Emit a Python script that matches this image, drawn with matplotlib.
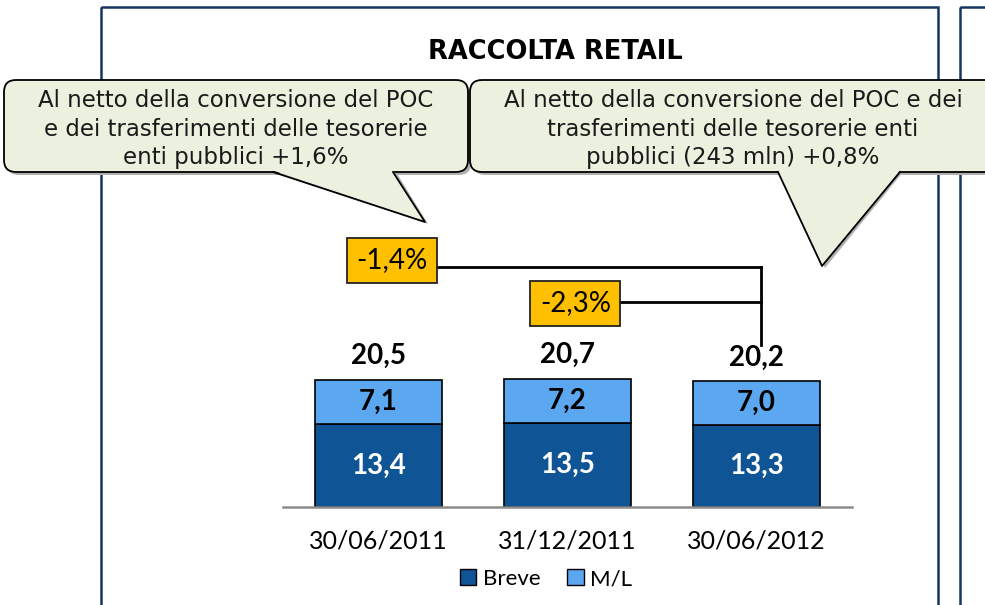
import matplotlib
matplotlib.use("Agg")
import matplotlib.pyplot as plt
from matplotlib.patches import FancyBboxPatch, Polygon, Rectangle, Patch

# dati
date = ["30/06/2011", "31/12/2011", "30/06/2012"]
breve = [13.4, 13.5, 13.3]
ml = [7.1, 7.2, 7.0]
totale = [20.5, 20.7, 20.2]
var_labels = ["-1,4%", "-2,3%"]
titolo = "RACCOLTA RETAIL"
nota1 = "Al netto della conversione del POC\ne dei trasferimenti delle tesorerie\nenti pubblici +1,6%"
nota2 = "Al netto della conversione del POC e dei\ntrasferimenti delle tesorerie enti\npubblici (243 mln) +0,8%"

W, H = 985, 605
col_breve = "#0F5494"
col_ml = "#5BA8F0"
col_var = "#FFC000"
col_nota = "#EBF1DE"
calibri = ["Lato", "DejaVu Sans"]


def fmt(v):
    return f"{v:.1f}".replace(".", ",")


fig = plt.figure(figsize=(W / 100, H / 100), dpi=100)

# assi delle barre, posizionati in pixel
base_px, top_px = 507, 230
px_per_unit = 6.2
ax = fig.add_axes([283 / W, (H - base_px) / H, 569 / W, (base_px - top_px) / H], zorder=2)
ax.patch.set_alpha(0)
x = list(range(len(date)))
larg = 0.672
ax.bar(x, breve, width=larg, color=col_breve, edgecolor="black", linewidth=1.2, label="Breve")
ax.bar(x, ml, bottom=breve, width=larg, color=col_ml, edgecolor="black", linewidth=1.2, label="M/L")
ax.set_xlim(-0.505, 2.505)
ax.set_ylim(0, (base_px - top_px) / px_per_unit)
for s in ["top", "right", "left"]:
    ax.spines[s].set_visible(False)
ax.spines["bottom"].set_color("#8c8c8c")
ax.spines["bottom"].set_linewidth(1.8)
ax.set_yticks([])
ax.set_xticks(x)
ax.set_xticklabels(date, fontsize=18, family=calibri)
ax.tick_params(axis="x", length=0, pad=16)

for i in x:
    ax.text(i, breve[i] / 2, fmt(breve[i]), ha="center", va="center",
            color="white", fontsize=20, fontweight="bold", family=calibri)
    ax.text(i, breve[i] + ml[i] / 2, fmt(ml[i]), ha="center", va="center",
            color="black", fontsize=20, fontweight="bold", family=calibri)
    ax.text(i, totale[i] + 3.9, fmt(totale[i]), ha="center", va="center",
            color="black", fontsize=20, fontweight="bold", family=calibri)

# box delle variazioni e connettori
box_pos = [(0.071, 39.76), (1.042, 32.9)]
bw, bh = 0.476, 7.26
x_conn = 2.024
y_end = 26.1
for (bx, by), lab in zip(box_pos, var_labels):
    ax.add_patch(Rectangle((bx - bw / 2, by - bh / 2), bw, bh, fc=col_var, ec="#222222",
                           lw=1.3, zorder=4, clip_on=False))
    ax.text(bx, by, lab, ha="center", va="center", fontsize=20, family=calibri, zorder=5)
ax.plot([box_pos[0][0] + bw / 2, x_conn], [38.7, 38.7], color="black", lw=2, zorder=3, clip_on=False)
ax.plot([box_pos[1][0] + bw / 2, x_conn], [33.1, 33.1], color="black", lw=2, zorder=3, clip_on=False)
ax.plot([x_conn, x_conn], [38.7, y_end], color="black", lw=2, zorder=3, clip_on=False)

handles = [Patch(fc=col_breve, ec="black", label="Breve"), Patch(fc=col_ml, ec="black", label="M/L")]
fig.legend(handles=handles, loc="center", bbox_to_anchor=(546 / W, 1 - 579 / H), ncol=2,
           frameon=False, prop={"family": calibri, "size": 16}, handlelength=0.75,
           handleheight=0.75, handletextpad=0.3, columnspacing=1.2)

# livello di decorazione in pixel
ov = fig.add_axes([0, 0, 1, 1], zorder=5)
ov.set_xlim(0, W)
ov.set_ylim(H, 0)
ov.axis("off")
ov.patch.set_alpha(0)

frame = "#17365D"
ov.add_patch(Rectangle((101, 7), 837, 620, fill=False, ec=frame, lw=1.8, clip_on=False, zorder=1))
ov.add_patch(Rectangle((960, 7), 60, 620, fill=False, ec=frame, lw=1.8, clip_on=False, zorder=1))
ov.text(555, 52, titolo, ha="center", va="center", fontsize=18.5, fontweight="bold", family="DejaVu Sans")


def nuvoletta(x0, y0, x1, y1, tl, tr, tip, testo, tx):
    ov.add_patch(FancyBboxPatch((x0 + 3, y0 + 3), x1 - x0, y1 - y0,
                                boxstyle="round,pad=0,rounding_size=12", fc="#b0b0b0", ec="none",
                                clip_on=False, zorder=2))
    ov.add_patch(Polygon([(tl + 3, y1), (tip[0] + 3, tip[1] + 2), (tr + 3, y1)], fc="#b0b0b0",
                         ec="none", clip_on=False, zorder=2))
    ov.add_patch(FancyBboxPatch((x0, y0), x1 - x0, y1 - y0,
                                boxstyle="round,pad=0,rounding_size=12", fc=col_nota, ec="black",
                                lw=1.3, clip_on=False, zorder=3))
    ov.add_patch(Polygon([(tl, y1 - 1.5), tip, (tr, y1 - 1.5)], fc=col_nota, ec="none",
                         clip_on=False, zorder=4))
    ov.plot([tl, tip[0], tr], [y1, tip[1], y1], color="black", lw=1.3, zorder=4, clip_on=False)
    ov.text(tx, (y0 + y1) / 2 + 3, testo, ha="center", va="center", fontsize=16.5,
            family="DejaVu Sans", linespacing=1.33, zorder=5, color="#1a1a1a")


nuvoletta(4, 80, 468, 172, 273, 393, (425, 222), nota1, 236)
nuvoletta(470, 80, 1010, 172, 778, 900, (822, 266), nota2, 733)

fig.savefig("out.png", dpi=100)
